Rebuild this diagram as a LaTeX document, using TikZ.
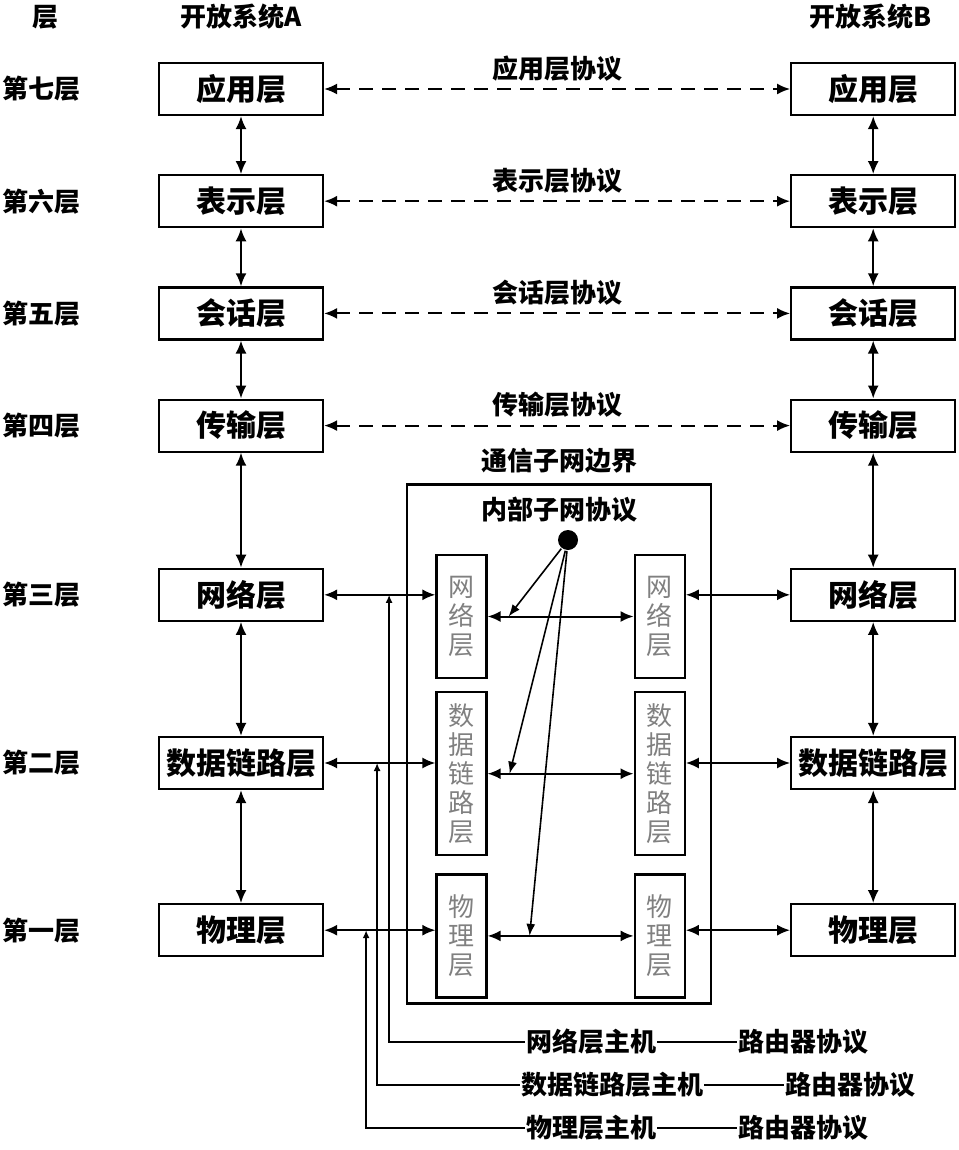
\documentclass[tikz,border=0pt]{standalone}
\usepackage{fontspec}
\setmainfont{Noto Sans CJK SC}
\usetikzlibrary{calc,arrows.meta,positioning}

\begin{document}
\begin{tikzpicture}[x=1pt, y=-1pt, >={Latex[length=13pt,width=11pt]}, line width=2pt,
	layerbox/.style={draw, rectangle, line width=2.2pt, minimum width=164pt, minimum height=52pt, inner sep=1pt, font=\fontsize{30}{32}\selectfont\bfseries},
	subbox/.style={draw, rectangle, line width=2.2pt, minimum width=50pt, inner sep=0pt, align=center, text=gray, font=\fontsize{26}{29}\selectfont},
	lbl/.style={inner sep=0pt, font=\fontsize{26}{28}\selectfont\bfseries},
	protoline/.style={<->, dash pattern=on 14pt off 9pt},
	hostline/.style={-{Latex[length=8pt,width=7pt]}, line width=2pt}]
			\useasboundingbox (0,0) rectangle (958,1150);
			% Headers
			\node[lbl] (hlayer) at (45,17) {层};
			\node[lbl] (hsysa) at (241,17) {开放系统A};
			\node[lbl] (hsysb) at (871,17) {开放系统B};
			
			% Open system A
			\node[layerbox] (a7) at (241,89) {应用层};
			\node[layerbox, below=58pt of a7] (a6) {表示层};
			\node[layerbox, below=58pt of a6] (a5) {会话层};
			\node[layerbox, below=58pt of a5] (a4) {传输层};
			\node[layerbox, below=115pt of a4] (a3) {网络层};
			\node[layerbox, below=114pt of a3] (a2) {数据链路层};
			\node[layerbox, below=113pt of a2] (a1) {物理层};
			
			% Open system B
			\node[layerbox, right=466pt of a7] (b7) {应用层};
			\node[layerbox, right=466pt of a6] (b6) {表示层};
			\node[layerbox, right=466pt of a5] (b5) {会话层};
			\node[layerbox, right=466pt of a4] (b4) {传输层};
			\node[layerbox, right=466pt of a3] (b3) {网络层};
			\node[layerbox, right=466pt of a2] (b2) {数据链路层};
			\node[layerbox, right=466pt of a1] (b1) {物理层};
			
			% Layer names
			\node[lbl, left=76pt of a7] (l7) {第七层};
			\node[lbl, left=76pt of a6] (l6) {第六层};
			\node[lbl, left=76pt of a5] (l5) {第五层};
			\node[lbl, left=76pt of a4] (l4) {第四层};
			\node[lbl, left=76pt of a3] (l3) {第三层};
			\node[lbl, left=76pt of a2] (l2) {第二层};
			\node[lbl, left=76pt of a1] (l1) {第一层};
			
			% Communication subnet
			\node[draw, rectangle, line width=2.2pt, minimum width=304pt, minimum height=519pt] (net) at (559,744) {};
			\node[lbl, above=9pt of net.north] (netname) {通信子网边界};
			\node[lbl, below=13pt of net.north] (netproto) {内部子网协议};
			\node[circle, fill, inner sep=0pt, minimum size=20pt] (dot) at (568,540) {};
			
			\node[subbox, minimum height=123pt] (ln3) at (461.5,616.5) {网\\络\\层};
			\node[subbox, minimum height=163pt, below=12pt of ln3] (ln2) {数\\据\\链\\路\\层};
			\node[subbox, minimum height=123pt, below=17pt of ln2] (ln1) {物\\理\\层};
			\node[subbox, minimum height=123pt, right=146pt of ln3] (rn3) {网\\络\\层};
			\node[subbox, minimum height=163pt, right=146pt of ln2] (rn2) {数\\据\\链\\路\\层};
			\node[subbox, minimum height=123pt, right=146pt of ln1] (rn1) {物\\理\\层};
			
			\coordinate (t3) at ($(ln3.east)+(21,0)$);
			\coordinate (t2) at ($(ln2.east)+(22,0)$);
			\coordinate (t1) at ($(ln1.east)+(42,0)$);
			
			% Host labels
			\node[lbl, anchor=west] (h3) at (525,1042) {网络层主机};
			\node[lbl, right=80pt of h3] (r3) {路由器协议};
			\node[lbl, anchor=west] (h2) at (520,1085) {数据链路层主机};
			\node[lbl, right=80pt of h2] (r2) {路由器协议};
			\node[lbl, anchor=west] (h1) at (525,1128) {物理层主机};
			\node[lbl, right=80pt of h1] (r1) {路由器协议};
			
			\coordinate (j3) at ($(a3.east)+(65,0)$);
			\coordinate (j2) at ($(a2.east)+(53,0)$);
			\coordinate (j1) at ($(a1.east)+(42,0)$);
			
			% Arrows
			\draw[<->] (a7) -- (a6);
			\draw[<->] (a6) -- (a5);
			\draw[<->] (a5) -- (a4);
			\draw[<->] (a4) -- (a3);
			\draw[<->] (a3) -- (a2);
			\draw[<->] (a2) -- (a1);
			\draw[<->] (b7) -- (b6);
			\draw[<->] (b6) -- (b5);
			\draw[<->] (b5) -- (b4);
			\draw[<->] (b4) -- (b3);
			\draw[<->] (b3) -- (b2);
			\draw[<->] (b2) -- (b1);
			
			\draw[protoline] (a7) -- node[lbl, above=7pt]{应用层协议} (b7);
			\draw[protoline] (a6) -- node[lbl, above=7pt]{表示层协议} (b6);
			\draw[protoline] (a5) -- node[lbl, above=7pt]{会话层协议} (b5);
			\draw[protoline] (a4) -- node[lbl, above=7pt]{传输层协议} (b4);
			
			\draw[<->] (a3.east) -- (a3.east -| ln3.west);
			\draw[<->] (a2.east) -- (a2.east -| ln2.west);
			\draw[<->] (a1.east) -- (a1.east -| ln1.west);
			\draw[<->] (rn3.east |- b3.west) -- (b3.west);
			\draw[<->] (rn2.east |- b2.west) -- (b2.west);
			\draw[<->] (rn1.east |- b1.west) -- (b1.west);
			
			\draw[<->] (ln3) -- (rn3);
			\draw[<->] (ln2) -- (rn2);
			\draw[<->] (ln1) -- (rn1);
			
			\draw[-{Latex[length=12pt,width=9pt]}, line width=1.6pt] (dot) -- (t3);
			\draw[-{Latex[length=12pt,width=9pt]}, line width=1.6pt] (dot) -- (t2);
			\draw[-{Latex[length=12pt,width=9pt]}, line width=1.6pt] (dot) -- (t1);
			
			\draw[hostline] (h3.west) -| (j3);
			\draw[hostline] (h2.west) -| (j2);
			\draw[hostline] (h1.west) -| (j1);
			\draw (h3) -- (r3);
			\draw (h2) -- (r2);
			\draw (h1) -- (r1);
		\end{tikzpicture}
\end{document}
